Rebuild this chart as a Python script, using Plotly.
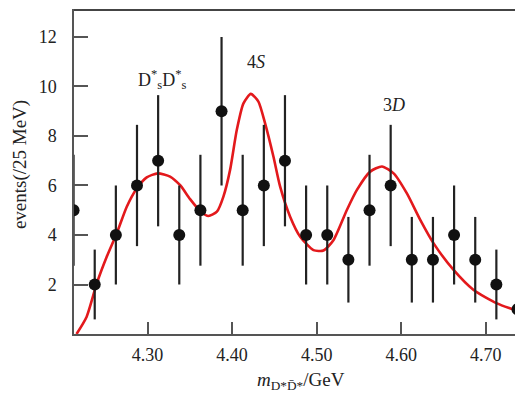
import plotly.graph_objects as go

# Data: bin centres (GeV), counts, and error bars
mass = [4.2125, 4.2375, 4.2625, 4.2875, 4.3125, 4.3375, 4.3625, 4.3875, 4.4125,
        4.4375, 4.4625, 4.4875, 4.5125, 4.5375, 4.5625, 4.5875, 4.6125, 4.6375,
        4.6625, 4.6875, 4.7125, 4.7375]
events = [5, 2, 4, 6, 7, 4, 5, 9, 5, 6, 7, 4, 4, 3, 5, 6, 3, 3, 4, 3, 2, 1]
err = [2.24, 1.41, 2.0, 2.45, 2.65, 2.0, 2.24, 3.0, 2.24, 2.45, 2.65, 2.0, 2.0,
       1.73, 2.24, 2.45, 1.73, 1.73, 2.0, 1.73, 1.41, 1.0]

# Fit curve
fit_x = [4.216, 4.228, 4.240, 4.2517, 4.2636, 4.2754, 4.2872, 4.299, 4.3121, 4.3266,
         4.3385, 4.3503, 4.363, 4.372, 4.382, 4.3897, 4.3976, 4.4055, 4.4134, 4.4221,
         4.4311, 4.439, 4.4489, 4.4568, 4.4686, 4.4805, 4.4962, 4.508, 4.520, 4.5357,
         4.5476, 4.5633, 4.5772, 4.591, 4.6067, 4.6225, 4.6383, 4.6619, 4.6856, 4.7132,
         4.741, 4.75]
fit_y = [0.0, 0.70, 2.05, 3.12, 4.07, 5.14, 5.88, 6.33, 6.49, 6.36,
         6.01, 5.45, 4.94, 4.77, 4.94, 5.55, 6.63, 8.24, 9.32, 9.70,
         9.39, 8.51, 7.16, 5.95, 4.74, 3.93, 3.39, 3.37, 3.80, 5.01,
         5.82, 6.56, 6.77, 6.49, 5.68, 4.61, 3.66, 2.59, 1.78, 1.24,
         0.90, 0.85]

x_ticks = [4.30, 4.40, 4.50, 4.60, 4.70]
x_tick_text = ["4.30", "4.40", "4.50", "4.60", "4.70"]
y_ticks = [2, 4, 6, 8, 10, 12]

labels = ["D<sup>*</sup><sub>s</sub>D<sup>*</sup><sub>s</sub>", "4<i>S</i>", "3<i>D</i>"]
label_x = [4.318, 4.428, 4.592]
label_y = [10.3, 11.0, 9.25]

FONT = "Liberation Serif, Times New Roman, serif"

fig = go.Figure()
fig.add_trace(go.Scatter(
    x=fit_x, y=fit_y, mode="lines",
    line=dict(color="#e3191c", width=2.6, shape="spline", smoothing=0.6),
    hoverinfo="skip", showlegend=False,
))
fig.add_trace(go.Scatter(
    x=mass, y=events, mode="markers",
    marker=dict(color="#111111", size=12),
    error_y=dict(type="data", array=err, arrayminus=err, width=0,
                 thickness=2.2, color="#222222"),
    showlegend=False,
))

for t, xx, yy in zip(labels, label_x, label_y):
    fig.add_annotation(x=xx, y=yy, text=t, showarrow=False,
                       font=dict(family=FONT, size=18, color="#222"))

# Axis titles as paper-anchored annotations
fig.add_annotation(xref="paper", yref="paper", x=-0.12, y=0.52,
                   text="events(/25 MeV)", textangle=-90, showarrow=False,
                   xanchor="center", yanchor="middle",
                   font=dict(family=FONT, size=19, color="#222"))
fig.add_annotation(xref="paper", yref="paper", x=0.505, y=-0.145,
                   text="<i>m</i><sub>D*D\u0304*</sub>/GeV", showarrow=False,
                   xanchor="center", yanchor="middle",
                   font=dict(family=FONT, size=19, color="#222"))

# Top frame line
fig.add_shape(type="line", xref="paper", yref="paper", x0=0, x1=1,
              y0=0.997, y1=0.997, line=dict(color="#444", width=2), layer="above")

# The page places the figure 8px in from the top-left corner; size it to fit.
fig.update_layout(
    width=515, height=393,
    margin=dict(l=66, r=0, t=1, b=67, autoexpand=False),
    paper_bgcolor="white", plot_bgcolor="white",
    font=dict(family=FONT, size=18, color="#222"),
)
fig.update_xaxes(
    range=[4.213, 4.744], tickvals=x_ticks, ticktext=x_tick_text,
    ticks="inside", ticklen=12, tickwidth=1.5, tickcolor="#555",
    showline=True, linecolor="#555", linewidth=1.5,
    showgrid=False, zeroline=False, ticklabelstandoff=4, automargin=False,
)
fig.update_yaxes(
    range=[0, 13.13], tickvals=y_ticks,
    ticks="inside", ticklen=14, tickwidth=1.5, tickcolor="#555",
    showline=True, linecolor="#555", linewidth=1.5,
    showgrid=False, zeroline=False, ticklabelstandoff=12, automargin=False,
)

fig.write_html("out.html")
